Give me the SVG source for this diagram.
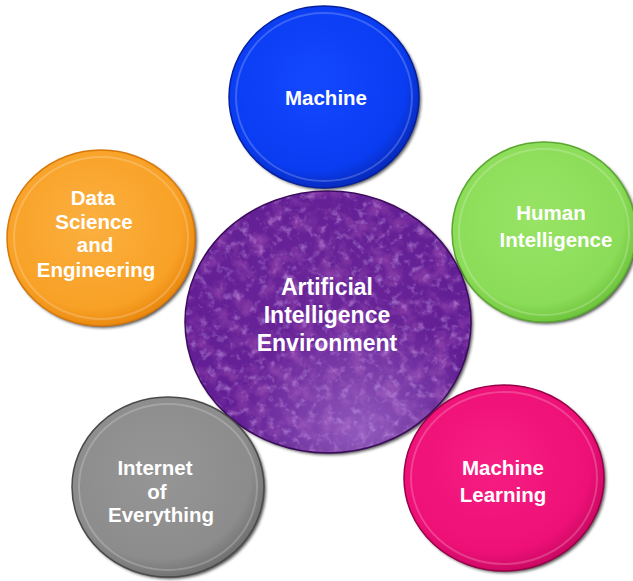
<svg xmlns="http://www.w3.org/2000/svg" width="633" height="581" viewBox="0 0 633 581">
<defs>
  <radialGradient id="gBlue" cx="45%" cy="42%" r="60%">
    <stop offset="0" stop-color="#1448ff"/>
    <stop offset="0.8" stop-color="#0a3df2"/>
    <stop offset="1" stop-color="#0628b8"/>
  </radialGradient>
  <radialGradient id="gOrange" cx="45%" cy="42%" r="60%">
    <stop offset="0" stop-color="#fbb040"/>
    <stop offset="0.8" stop-color="#f8a126"/>
    <stop offset="1" stop-color="#e8860c"/>
  </radialGradient>
  <radialGradient id="gGreen" cx="45%" cy="42%" r="60%">
    <stop offset="0" stop-color="#98e466"/>
    <stop offset="0.8" stop-color="#8bdc58"/>
    <stop offset="1" stop-color="#6cc23a"/>
  </radialGradient>
  <radialGradient id="gGray" cx="45%" cy="42%" r="60%">
    <stop offset="0" stop-color="#969696"/>
    <stop offset="0.8" stop-color="#8c8c8c"/>
    <stop offset="1" stop-color="#6e6e6e"/>
  </radialGradient>
  <radialGradient id="gPink" cx="45%" cy="42%" r="60%">
    <stop offset="0" stop-color="#f61e82"/>
    <stop offset="0.8" stop-color="#ee1077"/>
    <stop offset="1" stop-color="#c80862"/>
  </radialGradient>
  <radialGradient id="gPurple" cx="48%" cy="45%" r="60%">
    <stop offset="0" stop-color="#6a2698"/>
    <stop offset="0.85" stop-color="#621e94"/>
    <stop offset="1" stop-color="#4a1274"/>
  </radialGradient>
  <radialGradient id="sheen" cx="62%" cy="92%" r="45%">
    <stop offset="0" stop-color="#c9a0ee" stop-opacity="0.45"/>
    <stop offset="1" stop-color="#c9a0ee" stop-opacity="0"/>
  </radialGradient>
  <filter id="mottleLight" x="0" y="0" width="1" height="1">
    <feTurbulence type="fractalNoise" baseFrequency="0.12" numOctaves="4" seed="7" result="noise"/>
    <feColorMatrix in="noise" type="matrix" values="0 0 0 0 0.60  0 0 0 0 0.36  0 0 0 0 0.84  1.6 0 0 0 -0.85" result="light"/>
    <feComposite in="light" in2="SourceGraphic" operator="in"/>
  </filter>
  <filter id="mottleDark" x="0" y="0" width="1" height="1">
    <feTurbulence type="fractalNoise" baseFrequency="0.06" numOctaves="3" seed="21" result="noise"/>
    <feColorMatrix in="noise" type="matrix" values="0 0 0 0 0.30  0 0 0 0 0.06  0 0 0 0 0.42  0 2.0 0 0 -0.9" result="dark"/>
    <feComposite in="dark" in2="SourceGraphic" operator="in"/>
  </filter>
  <filter id="blur2"><feGaussianBlur stdDeviation="1.6"/></filter>
</defs>
<style>
  .lbl { font-family: "Liberation Sans", Arial, sans-serif; font-weight: bold; fill: #ffffff; text-anchor: middle; }
  .s20 { font-size: 20.5px; }
  .s23 { font-size: 23px; }
  .shadow { fill: #1a1a1a; opacity: 0.75; filter: url(#blur2); }
  .ring { fill: none; stroke: #ffffff; stroke-opacity: 0.2; stroke-width: 2; }
</style>
<rect width="633" height="581" fill="#ffffff"/>

<g id="node-machine">
  <ellipse class="shadow" cx="326" cy="99" rx="95" ry="91"/>
  <ellipse cx="324" cy="97" rx="95" ry="91" fill="url(#gBlue)" stroke="#0420a0" stroke-width="1.5"/>
  <ellipse class="ring" cx="324" cy="97" rx="88" ry="84"/>
  <text class="lbl s20" x="326" y="105">Machine</text>
</g>

<g id="node-data-science">
  <ellipse class="shadow" cx="103" cy="240" rx="94" ry="88"/>
  <ellipse cx="101" cy="238" rx="94" ry="88" fill="url(#gOrange)" stroke="#d8780a" stroke-width="1.5"/>
  <ellipse class="ring" cx="101" cy="238" rx="87" ry="81"/>
  <text class="lbl s20" x="93" y="205">Data</text>
  <text class="lbl s20" x="94" y="229">Science</text>
  <text class="lbl s20" x="95" y="252">and</text>
  <text class="lbl s20" x="96" y="277">Engineering</text>
</g>

<g id="node-human-intelligence">
  <ellipse class="shadow" cx="546" cy="234" rx="92" ry="90"/>
  <ellipse cx="544" cy="232" rx="92" ry="90" fill="url(#gGreen)" stroke="#5aa830" stroke-width="1.5"/>
  <ellipse class="ring" cx="544" cy="232" rx="85" ry="83"/>
  <text class="lbl s20" x="551" y="220">Human</text>
  <text class="lbl s20" x="556" y="247">Intelligence</text>
</g>

<g id="node-ai-environment">
  <ellipse class="shadow" cx="330" cy="324" rx="143" ry="131"/>
  <ellipse cx="328" cy="322" rx="143" ry="131" fill="url(#gPurple)"/>
  <ellipse cx="328" cy="322" rx="143" ry="131" fill="#000" filter="url(#mottleDark)"/>
  <ellipse cx="328" cy="322" rx="143" ry="131" fill="#000" filter="url(#mottleLight)"/>
  <ellipse cx="328" cy="322" rx="143" ry="131" fill="url(#sheen)"/>
  <ellipse cx="328" cy="322" rx="143" ry="131" fill="none" stroke="#3c0c5c" stroke-width="1.5"/>
  <text class="lbl s23" x="327" y="295">Artificial</text>
  <text class="lbl s23" x="327" y="323">Intelligence</text>
  <text class="lbl s23" x="327" y="351">Environment</text>
</g>

<g id="node-internet-of-everything">
  <ellipse class="shadow" cx="170" cy="489" rx="96" ry="90"/>
  <ellipse cx="168" cy="487" rx="96" ry="90" fill="url(#gGray)" stroke="#4a4a4a" stroke-width="1.5"/>
  <ellipse class="ring" cx="168" cy="487" rx="89" ry="83"/>
  <text class="lbl s20" x="155" y="475">Internet</text>
  <text class="lbl s20" x="157" y="499">of</text>
  <text class="lbl s20" x="161" y="522">Everything</text>
</g>

<g id="node-machine-learning">
  <ellipse class="shadow" cx="506" cy="480" rx="100" ry="93"/>
  <ellipse cx="504" cy="478" rx="100" ry="93" fill="url(#gPink)" stroke="#9a0048" stroke-width="1.5"/>
  <ellipse class="ring" cx="504" cy="478" rx="93" ry="86"/>
  <text class="lbl s20" x="503" y="475">Machine</text>
  <text class="lbl s20" x="503" y="502">Learning</text>
</g>
</svg>
